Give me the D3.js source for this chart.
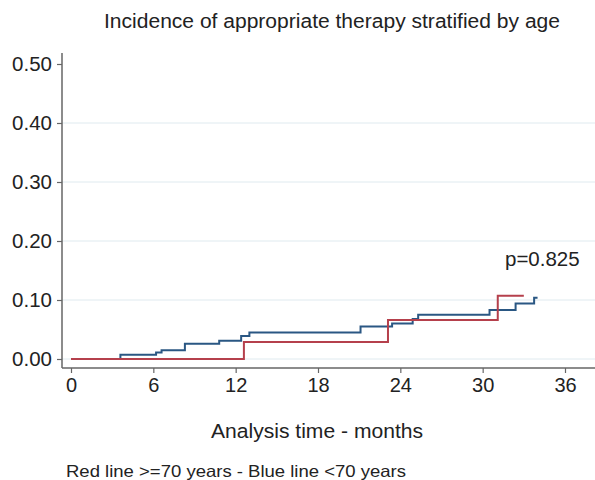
<!DOCTYPE html>
<html><head><meta charset="utf-8">
<script src="https://cdn.jsdelivr.net/npm/d3@7"></script>
<style>body{margin:0;background:#fff}svg{display:block}text{font-family:"Liberation Sans",Arial,sans-serif;fill:#222}</style>
</head><body>
<script>
const title = "Incidence of appropriate therapy stratified by age";
const xLabel = "Analysis time - months";
const footer = "Red line >=70 years - Blue line <70 years";
const pLabel = "p=0.825";
const xTicks = [0, 6, 12, 18, 24, 30, 36];
const yTicks = [0, 0.1, 0.2, 0.3, 0.4, 0.5];
const gridTicks = [0, 0.1, 0.2, 0.3, 0.4];
const blueTimes  = [0, 3.6, 6.2, 6.6, 8.3, 10.8, 12.4, 13.0, 21.1, 23.4, 24.9, 25.3, 30.5, 32.4, 33.75, 34.0];
const blueValues = [0, 0.007, 0.011, 0.015, 0.026, 0.031, 0.039, 0.045, 0.055, 0.060, 0.068, 0.075, 0.083, 0.094, 0.104, 0.104];
const redTimes  = [0, 12.6, 23.1, 31.1, 33.0];
const redValues = [0, 0.029, 0.066, 0.107, 0.107];

const W = 595, H = 480;
const FONT = '"Liberation Sans",Arial,sans-serif';
const svg = d3.select("body").append("svg").attr("width", W).attr("height", H);
const x = d3.scaleLinear().domain([0, 36]).range([71, 565]);
const y = d3.scaleLinear().domain([0, 0.5]).range([359, 64]);
const axisY = 62, axisXpos = 368;

// grid
svg.append("g").selectAll("line").data(gridTicks).join("line")
  .attr("x1", axisY).attr("x2", W).attr("y1", d => y(d)).attr("y2", d => y(d))
  .attr("stroke", "#dfeaef").attr("stroke-width", 1);

// y axis
const ya = svg.append("g").attr("transform", `translate(${axisY},0)`)
  .call(d3.axisLeft(y).tickValues(yTicks).tickFormat(d3.format(".2f")).tickSize(5).tickPadding(5));
ya.select(".domain").attr("d", `M0,53V${axisXpos}`).attr("stroke", "#666").attr("stroke-width", 1.5);
ya.selectAll(".tick line").attr("stroke", "#666").attr("stroke-width", 1.2);
ya.selectAll(".tick text").attr("font-size", 20.5).attr("fill", "#222").attr("font-family", FONT);

// x axis
const xa = svg.append("g").attr("transform", `translate(0,${axisXpos})`)
  .call(d3.axisBottom(x).tickValues(xTicks).tickSize(5).tickPadding(5));
xa.select(".domain").attr("d", `M${axisY},0H${W}`).attr("stroke", "#666").attr("stroke-width", 1.5);
xa.selectAll(".tick line").attr("stroke", "#666").attr("stroke-width", 1.2);
xa.selectAll(".tick text").attr("font-size", 20).attr("fill", "#222").attr("font-family", FONT);

const line = d3.line().x(d => x(d[0])).y(d => y(d[1])).curve(d3.curveStepAfter);
const blue = blueTimes.map((t, i) => [t, blueValues[i]]);
const red = redTimes.map((t, i) => [t, redValues[i]]);
svg.append("path").datum(blue).attr("d", line).attr("fill", "none").attr("stroke", "#2a5783").attr("stroke-width", 2);
svg.append("path").datum(red).attr("d", line).attr("fill", "none").attr("stroke", "#b5404c").attr("stroke-width", 2);

svg.append("text").attr("x", 104).attr("y", 28).attr("font-size", 19.5)
  .attr("textLength", 456).attr("lengthAdjust", "spacingAndGlyphs").text(title);
svg.append("text").attr("x", 211).attr("y", 437.5).attr("font-size", 20.5)
  .attr("textLength", 212).attr("lengthAdjust", "spacingAndGlyphs").text(xLabel);
svg.append("text").attr("x", 66).attr("y", 476.5).attr("font-size", 16.5)
  .attr("textLength", 340).attr("lengthAdjust", "spacingAndGlyphs").text(footer);
svg.append("text").attr("x", 505).attr("y", 266).attr("font-size", 20.5).text(pLabel);
</script>
</body></html>
